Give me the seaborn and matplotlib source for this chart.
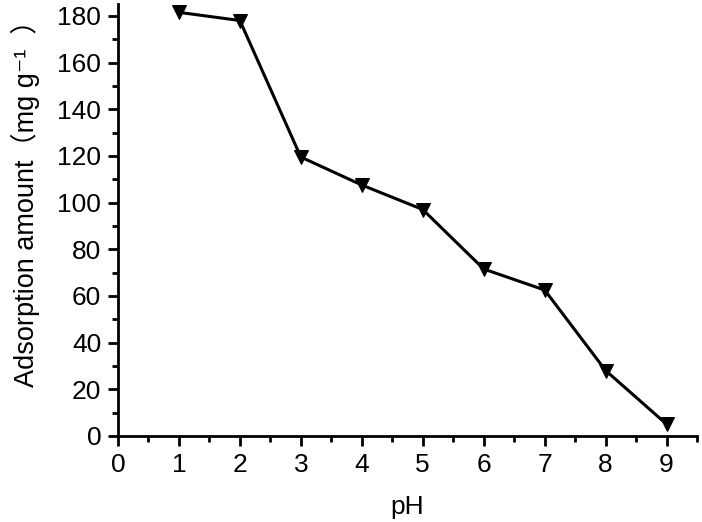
import matplotlib
matplotlib.use("Agg")
import matplotlib.pyplot as plt
from matplotlib.ticker import MultipleLocator
import seaborn as sns
import pandas as pd

ph = [1, 2, 3, 4, 5, 6, 7, 8, 9]
adsorption = [181.5, 178, 119.5, 107.5, 97, 71.5, 62.5, 28, 5]

sns.set_style("ticks")
plt.rcParams['font.family'] = ['Liberation Sans', 'Noto Sans CJK SC', 'DejaVu Sans']

df = pd.DataFrame({"pH": ph, "ads": adsorption})

fig = plt.figure(figsize=(7.02, 5.22), dpi=100)
ax = fig.add_axes([0.168, 0.165, 0.825, 0.827])
sns.lineplot(data=df, x="pH", y="ads", ax=ax, color="black", linewidth=2.2,
             marker="v", markersize=10, markeredgecolor="black", markerfacecolor="black")

ax.set_xlim(0, 9.5)
ax.set_ylim(0, 185)
ax.xaxis.set_major_locator(MultipleLocator(1))
ax.xaxis.set_minor_locator(MultipleLocator(0.5))
ax.yaxis.set_major_locator(MultipleLocator(20))
ax.yaxis.set_minor_locator(MultipleLocator(10))
ax.tick_params(axis="both", which="major", direction="out", length=7, width=2, labelsize=19,
               color="black", labelcolor="black", pad=5)
ax.tick_params(axis="both", which="minor", direction="out", length=4, width=2, color="black")
for s in ["top", "right"]:
    ax.spines[s].set_visible(False)
for s in ["left", "bottom"]:
    ax.spines[s].set_linewidth(2)
    ax.spines[s].set_color("black")

ax.set_xlabel("pH", fontsize=19, labelpad=13, color="black")
ax.set_ylabel("Adsorption amount（mg g⁻¹  ）", fontsize=19.5, color="black")
ax.yaxis.set_label_coords(-0.135, 0.555)

fig.savefig("out.png", dpi=100)
